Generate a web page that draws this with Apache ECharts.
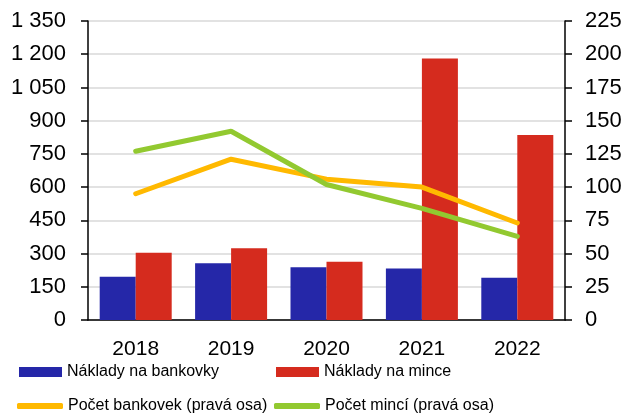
<!DOCTYPE html>
<html>
<head>
<meta charset="utf-8">
<script src="https://cdn.jsdelivr.net/npm/echarts@6/dist/echarts.min.js"></script>
<style>
  html, body { margin: 0; padding: 0; background: #fff; }
  #main { width: 626px; height: 415px; }
</style>
</head>
<body>
<div id="main"></div>
<script>
// data
const years = ['2018', '2019', '2020', '2021', '2022'];
const nakladyBankovky = [195, 256, 238, 233, 191];
const nakladyMince = [304, 324, 263, 1181, 835];
const pocetBankovek = [95, 121, 106, 100, 73];
const pocetMinci = [127, 142, 102, 84, 63];

const chart = echarts.init(document.getElementById('main'));

// thousands with space, e.g. 1 350
const fmt = v => String(v).replace(/\B(?=(\d{3})+(?!\d))/g, ' ');

const font = 'Liberation Sans, Arial, sans-serif';
const legendText = { fontFamily: font, fontSize: 16, color: '#000' };

const option = {
  animation: false,
  grid: { left: 88, right: 61, top: 21, bottom: 95 },
  legend: [
    { data: ['Náklady na bankovky'], left: 19, top: 364, padding: 0, itemGap: 0, icon: 'rect', itemWidth: 43, itemHeight: 10, textStyle: legendText },
    { data: ['Náklady na mince'], left: 276, top: 364, padding: 0, icon: 'rect', itemWidth: 43, itemHeight: 10, textStyle: legendText },
    { data: ['Počet bankovek (pravá osa)'], left: 17, top: 398, padding: 0, icon: 'roundRect', itemWidth: 46, itemHeight: 6, textStyle: legendText },
    { data: ['Počet mincí (pravá osa)'], left: 274, top: 398, padding: 0, icon: 'roundRect', itemWidth: 46, itemHeight: 6, textStyle: legendText }
  ],
  xAxis: {
    type: 'category',
    data: years,
    axisLine: { lineStyle: { color: '#000', width: 1.5 } },
    axisTick: { show: false },
    axisLabel: { color: '#000', fontFamily: font, fontSize: 21, margin: 19 }
  },
  yAxis: [
    {
      type: 'value', min: 0, max: 1350, interval: 150,
      axisLine: { show: true, lineStyle: { color: '#000', width: 1.5 } },
      axisTick: { show: true, length: 7, lineStyle: { color: '#000', width: 1.5 } },
      axisLabel: { color: '#000', fontFamily: font, fontSize: 22, margin: 22, formatter: fmt },
      splitLine: { lineStyle: { color: '#d9d9d9', width: 1.5 } }
    },
    {
      type: 'value', min: 0, max: 225, interval: 25, position: 'right',
      axisLine: { show: true, lineStyle: { color: '#000', width: 1.5 } },
      axisTick: { show: true, length: 7, lineStyle: { color: '#000', width: 1.5 } },
      axisLabel: { color: '#000', fontFamily: font, fontSize: 22, margin: 20 },
      splitLine: { show: false }
    }
  ],
  series: [
    {
      name: 'Náklady na bankovky', type: 'bar', data: nakladyBankovky,
      barWidth: 36, barGap: '0%', itemStyle: { color: '#2527a8' }
    },
    {
      name: 'Náklady na mince', type: 'bar', data: nakladyMince,
      barWidth: 36, itemStyle: { color: '#d52b1e' }
    },
    {
      name: 'Počet bankovek (pravá osa)', type: 'line', yAxisIndex: 1, data: pocetBankovek,
      symbol: 'none', lineStyle: { color: '#ffb900', width: 5, cap: 'round' }, itemStyle: { color: '#ffb900' }
    },
    {
      name: 'Počet mincí (pravá osa)', type: 'line', yAxisIndex: 1, data: pocetMinci,
      symbol: 'none', lineStyle: { color: '#92c930', width: 5, cap: 'round' }, itemStyle: { color: '#92c930' }
    }
  ]
};

chart.setOption(option);
</script>
</body>
</html>
